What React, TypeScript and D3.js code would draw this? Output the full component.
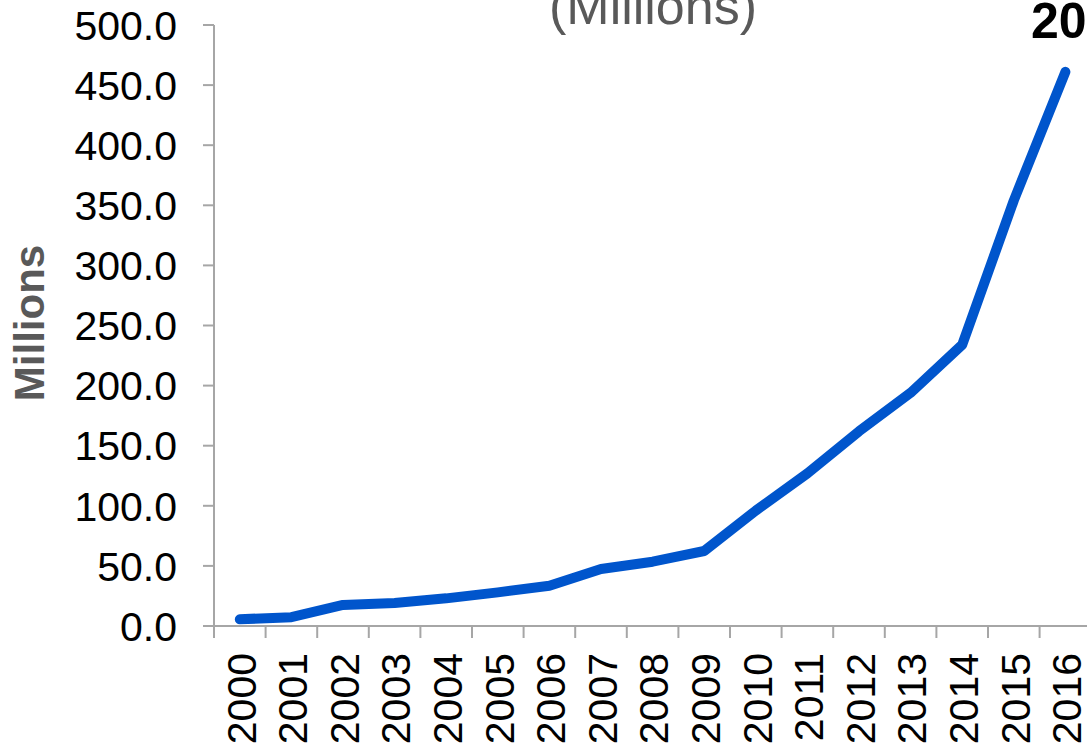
import React from "react";
import * as d3 from "d3";

const years = ["2000","2001","2002","2003","2004","2005","2006","2007","2008","2009","2010","2011","2012","2013","2014","2015","2016"];
const values = [5.6, 7.3, 17.5, 19.2, 23, 28, 33.5, 47.4, 53.5, 62.4, 96, 127, 162, 194, 234, 354, 461];
const yTicks = [0, 50, 100, 150, 200, 250, 300, 350, 400, 450, 500];
const titleText = "(Millions)";
const yAxisTitle = "Millions";
const cornerText = "2016";

const W = 1087;
const H = 748;
const FONT = "'Liberation Sans', Arial, Helvetica, sans-serif";

export default function App() {
  const x = d3.scaleBand<string>().domain(years).range([214, 214 + 17 * 51.6]).padding(0);
  const y = d3.scaleLinear().domain([0, 500]).range([626, 25]);
  const line = d3
    .line<number>()
    .x((_, i) => (x(years[i]) as number) + x.bandwidth() / 2)
    .y((d) => y(d));
  const axisColor = "#a6a6a6";
  const x0 = 214;
  const y0 = y(0);
  const boundaries = years.map((yr) => x(yr) as number).concat([(x(years[years.length - 1]) as number) + x.bandwidth()]);

  return (
    <svg width={W} height={H} style={{ position: "absolute", left: 0, top: 0, overflow: "hidden", background: "#fff" }}>
      <text x={653} y={24} textAnchor="middle" fontFamily={FONT} fontSize={52} fill="#595959">{titleText}</text>
      <text x={1031} y={38} fontFamily={FONT} fontSize={50} fontWeight="bold" fill="#000">{cornerText}</text>
      <text transform={`translate(44,323) rotate(-90)`} textAnchor="middle" fontFamily={FONT} fontSize={42} fontWeight="bold" fill="#595959">{yAxisTitle}</text>
      {/* y axis */}
      <line x1={x0} x2={x0} y1={y(500)} y2={y0 + 12} stroke={axisColor} strokeWidth={2} />
      {yTicks.map((t) => (
        <g key={t}>
          <line x1={x0 - 11} x2={x0} y1={y(t)} y2={y(t)} stroke={axisColor} strokeWidth={2} />
          <text x={177} y={y(t)} dy="0.36em" textAnchor="end" fontFamily={FONT} fontSize={41} fill="#000">{t.toFixed(1)}</text>
        </g>
      ))}
      {/* x axis */}
      <line x1={x0 - 11} x2={W + 10} y1={y0} y2={y0} stroke={axisColor} strokeWidth={2} />
      {boundaries.map((b, i) => (
        <line key={i} x1={b} x2={b} y1={y0} y2={y0 + 12} stroke={axisColor} strokeWidth={2} />
      ))}
      {years.map((yr) => {
        const cx = (x(yr) as number) + x.bandwidth() / 2;
        return (
          <text key={yr} transform={`translate(${cx + 1},653) rotate(-90)`} dy="0.36em" textAnchor="end" fontFamily={FONT} fontSize={41} fill="#000">{yr}</text>
        );
      })}
      <path d={line(values) || ""} fill="none" stroke="#0055cc" strokeWidth={10} strokeLinecap="round" strokeLinejoin="round" />
    </svg>
  );
}
